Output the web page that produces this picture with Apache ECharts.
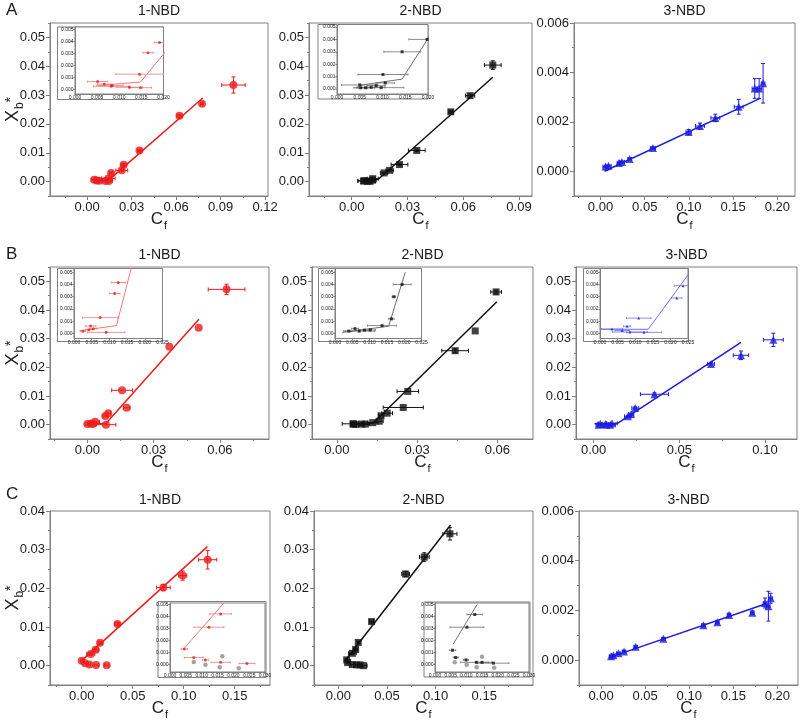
<!DOCTYPE html>
<html><head><meta charset="utf-8">
<script src="https://cdn.jsdelivr.net/npm/echarts@6/dist/echarts.min.js"></script>
<style>html,body{margin:0;padding:0;background:#fff}#c{width:800px;height:720px}</style>
</head><body><div id="c"></div>
<script>
// ================= DATA (x, y, xerr, yerr) =================
const A1_pts = [[0.0049,0.0006,0.0022,0],[0.0065,0.0004,0.0015,0],[0.0083,0.0003,0.0020,0],[0.0124,0.0002,0.0030,0],[0.0146,0.0002,0.0025,0],[0.0144,0.0011,0.0045,0],[0.0162,0.0030,0.0012,0.0003],[0.0234,0.0039,0.0040,0.0003],[0.0247,0.0058,0.0018,0.0004],[0.0353,0.0108,0.0012,0.0004],[0.0623,0.0228,0.0018,0.0005],[0.0775,0.0270,0.0006,0.0003],[0.0987,0.0335,0.0079,0.0028]];
const A1_fit = [[0.0048,0.0003],[0.0148,0.0006],[0.078,0.029]];
const A1_ins_pts = [[0.0051,0.00064,0.0023,0],[0.0066,0.00043,0.0015,0],[0.0084,0.00032,0.0025,0],[0.0082,0.00024,0.0040,0],[0.0123,0.00016,0.0030,0],[0.0148,0.00013,0.0025,0],[0.0146,0.00126,0.0054,0],[0.0165,0.00305,0.0012,0],[0.0191,0.0039,0.0012,0]];

const A2_pts = [[0.0063,0.0002,0.0030,0],[0.0068,0.0003,0.0035,0],[0.0084,0.0001,0.0020,0],[0.0099,0.0001,0.0030,0],[0.0111,0.0005,0.0020,0],[0.0113,0.0010,0.0030,0],[0.0174,0.0030,0.0020,0.0003],[0.0204,0.0039,0.0020,0.0003],[0.0257,0.0059,0.0045,0.0004],[0.0350,0.0108,0.0045,0.0004],[0.0533,0.0242,0.0010,0.0005],[0.0637,0.0298,0.0025,0.0005],[0.0759,0.0404,0.0045,0.0015]];
const A2_fit = [[0.005,0.0003],[0.0143,0.0008],[0.0759,0.0362]];
const A2_ins_pts = [[0.0050,0.00033,0.0040,0],[0.0052,0.00010,0.0015,0],[0.0063,0.00010,0.0020,0],[0.0075,0.00014,0.0030,0],[0.0086,0.00027,0.0020,0],[0.0097,0.00011,0.0050,0],[0.0106,0.00049,0.0020,0],[0.0101,0.00117,0.0055,0],[0.0143,0.00300,0.0040,0],[0.0198,0.00400,0.0040,0]];

const A3_pts = [[0.0057,0.00019,0.003,0.00003],[0.0090,0.00022,0.003,0.00003],[0.0208,0.00034,0.002,0.00003],[0.0242,0.00038,0.003,0.00004],[0.0329,0.00050,0.002,0.00004],[0.0593,0.00094,0.003,0.00005],[0.0997,0.00159,0.003,0.0001],[0.1125,0.00183,0.005,0.00012],[0.1299,0.00216,0.005,0.00015],[0.1563,0.00261,0.005,0.0003],[0.1745,0.00335,0.003,0.0004],[0.1794,0.00335,0.003,0.0004],[0.1839,0.00356,0.002,0.0008]];
const A3_fit = [[0.0045,0.0],[0.1805,0.00295]];

const B1_pts = [[0.0000,0.0002,0.0010,0],[0.0015,0.0003,0.0010,0],[0.0025,0.0002,0.0015,0],[0.0035,0.0010,0.0020,0],[0.0084,0.0000,0.0045,0],[0.0081,0.0030,0.0010,0],[0.0095,0.0040,0.0010,0],[0.0157,0.0120,0.0047,0],[0.0178,0.0059,0.0015,0],[0.0371,0.0272,0,0],[0.0504,0.0338,0,0],[0.0630,0.0472,0.0083,0.0018]];
const B1_fit = [[0.0,0.0002],[0.0084,0.0004],[0.0505,0.0368]];
const B1_ins_pts = [[0.0025,0.00020,0.0008,0],[0.0042,0.00032,0.0010,0],[0.0047,0.00062,0.0015,0],[0.0055,0.00040,0.0010,0],[0.0074,0.00130,0.0050,0],[0.0091,0.00010,0.0053,0],[0.0115,0.00327,0.0015,0],[0.0125,0.00416,0.0020,0]];
const B1_ins_fit = [[0.0018,0.00024],[0.012,0.00065],[0.0165,0.0057]];

const B2_pts = [[0.0060,0.0003,0.0040,0],[0.0062,0.0002,0.0010,0],[0.0071,0.0001,0.0015,0],[0.0093,0.0002,0.0025,0],[0.0106,0.0002,0.0015,0],[0.0134,0.0007,0.0020,0],[0.0158,0.0012,0.0015,0],[0.0165,0.0031,0.0008,0],[0.0188,0.0040,0.0020,0],[0.0248,0.0060,0.0075,0],[0.0265,0.0116,0.0040,0],[0.0442,0.0258,0.0050,0.0007],[0.0517,0.0327,0,0],[0.0595,0.0463,0.0020,0.0007]];
const B2_fit = [[0.005,0.0002],[0.0135,0.0005],[0.0598,0.0429]];
const B2_ins_pts = [[0.0040,0.00020,0.0010,0],[0.0058,0.00040,0.0010,0],[0.0070,0.00020,0.0045,0],[0.0085,0.00028,0.0015,0],[0.0102,0.00030,0.0015,0],[0.0136,0.00065,0.0042,0],[0.0163,0.00120,0.0008,0],[0.0170,0.00300,0.0005,0],[0.0194,0.00400,0.0026,0]];
const B2_ins_fit = [[0.0021,0.0001],[0.0155,0.0006],[0.0203,0.0050]];

const B3_pts = [[0.0029,0.0000,0.0015,0],[0.0039,0.0003,0.0015,0],[0.0068,0.0002,0.0020,0],[0.0074,0.0000,0.0030,0],[0.0097,0.0000,0.0030,0],[0.0107,0.0005,0.0030,0],[0.0200,0.0029,0.0020,0.0003],[0.0219,0.0037,0.0015,0.0003],[0.0243,0.0058,0.0020,0.0004],[0.0355,0.0106,0.0082,0.0005],[0.0685,0.0212,0.0020,0.0005],[0.0860,0.0242,0.0045,0.0015],[0.1049,0.0296,0.0058,0.0023]];
const B3_fit = [[0.0005,0.00035],[0.0137,0.00035],[0.086,0.0287]];
const B3_ins_pts = [[0.0034,0.00037,0.0030,0],[0.0063,0.00025,0.0020,0],[0.0077,0.00060,0.0010,0],[0.0085,0.00013,0.0050,0],[0.0110,0.00126,0.0035,0],[0.0125,0.00010,0.0050,0],[0.0218,0.00290,0.0015,0],[0.0236,0.00390,0.0025,0]];

const C1_pts = [[0.0000,0.0013,0.0010,0],[0.0033,0.0006,0.0015,0],[0.0075,0.0003,0.0010,0],[0.0141,0.0002,0.0020,0],[0.0245,0.0001,0.0020,0],[0.0088,0.0030,0.0040,0.0003],[0.0137,0.0041,0.0030,0.0004],[0.0180,0.0059,0.0020,0.0004],[0.0350,0.0108,0.0025,0.0004],[0.0801,0.0202,0.0067,0.0008],[0.0990,0.0233,0.0040,0.0012],[0.1235,0.0274,0.0089,0.0024]];
const C1_fit = [[0.0,0.0013],[0.1232,0.0308]];
const C1_ins_pts = [[0.0045,0.0013,0.0010,0],[0.0075,0.0006,0.0030,0],[0.0112,0.0004,0.0010,0],[0.0160,0.0002,0.0030,0],[0.0243,0.0001,0.0025,0],[0.0123,0.0031,0.0047,0],[0.0160,0.0042,0.0034,0]];
const C1_ins_gray = [[0.0075,0.00022],[0.0112,0.0],[0.0165,0.0007],[0.0157,-0.0002],[0.0217,-0.0003]];
const C1_ins_fit = [[0.0043,0.0013],[0.017,0.0051]];

const C2_pts = [[0.0086,0.0015,0.0010,0],[0.0096,0.0008,0.0010,0],[0.0144,0.0003,0.0015,0],[0.0188,0.0002,0.0015,0],[0.0223,0.0002,0.0015,0],[0.0260,0.0000,0.0035,0],[0.0144,0.0032,0.0040,0.0003],[0.0178,0.0042,0.0020,0.0003],[0.0205,0.0060,0.0010,0.0003],[0.0342,0.0114,0.0020,0.0004],[0.0692,0.0237,0.0040,0.0007],[0.0884,0.0281,0.0050,0.0011],[0.1147,0.0341,0.0072,0.0016]];
const C2_fit = [[0.0079,0.0016],[0.1154,0.0364]];
const C2_ins_pts = [[0.0056,0.0012,0.0010,0],[0.0066,0.0006,0.0008,0],[0.0099,0.0004,0.0008,0],[0.0132,0.0002,0.0050,0],[0.0150,0.0002,0.0020,0],[0.0186,0.00013,0.0050,0],[0.0102,0.0031,0.0054,0],[0.0127,0.00415,0.0025,0]];
const C2_ins_gray = [[0.0063,0.0002],[0.0101,0.0],[0.0133,-0.0002],[0.0150,0.00067],[0.0189,-0.00024]];
const C2_ins_fit = [[0.0058,0.0017],[0.0135,0.005]];

const C3_pts = [[0.0113,0.00016,0.002,0.00002],[0.0140,0.00020,0.002,0.00002],[0.0197,0.00028,0.002,0.00003],[0.0261,0.00035,0.002,0.00004],[0.0393,0.00054,0.002,0.00004],[0.0707,0.00086,0.002,0.00005],[0.1161,0.00140,0.002,0.00006],[0.1319,0.00152,0.002,0.00006],[0.1452,0.00182,0.002,0.00007],[0.1716,0.00191,0.002,0.00007],[0.1860,0.00230,0.002,0.00020],[0.1898,0.00217,0.002,0.00060],[0.1924,0.00249,0.002,0.00020]];
const C3_fit = [[0.0091,0.0001],[0.1887,0.00229]];

// tick labels
const xt_003_12 = [0,0.03,0.06,0.09,0.12];
const xt_003_09 = [0,0.03,0.06,0.09];
const xt_003_06 = [0,0.03,0.06];
const xt_005_20 = [0,0.05,0.10,0.15,0.20];
const xt_005_15 = [0,0.05,0.10,0.15];
const xt_005_10 = [0,0.05,0.10];
const yt_001_05 = [0,0.01,0.02,0.03,0.04,0.05];
const yt_001_04 = [0,0.01,0.02,0.03,0.04];
const yt_0002_6 = [0,0.002,0.004,0.006];
const ins_yt = [0,0.001,0.002,0.003,0.004,0.005];
const ins_xt20 = [0,0.005,0.010,0.015,0.020];
const ins_xt25 = [0,0.005,0.010,0.015,0.020,0.025];
const ins_xt30 = [0,0.005,0.010,0.015,0.020,0.025,0.030];

const panelTitles = ['1-NBD','2-NBD','3-NBD'];
const rowLetters = ['A','B','C'];

// ================= STYLE / LAYOUT =================
const FONT = 'Liberation Sans, Arial, Helvetica, sans-serif';
const TXT = '#1a1a1a', FRAME = '#808080';
const RED = '#ee1b1b', BLACK = '#111111', BLUE = '#1c1ce0';
const RED_L = '#f07a7a', BLACK_L = '#6e6e6e', BLUE_L = '#7070ee';

const mains = [
  {rect:[50,23,218,173],  xr:[-0.025,0.122],  yr:[-0.005,0.055], xt:xt_003_12, yt:yt_001_05, xd:2, yd:2, pts:A1_pts, fit:A1_fit, c:RED,   sym:'circle',   yname:true},
  {rect:[309,23,223,173], xr:[-0.023,0.097],  yr:[-0.005,0.055], xt:xt_003_09, yt:yt_001_05, xd:2, yd:2, pts:A2_pts, fit:A2_fit, c:BLACK, sym:'rect'},
  {rect:[574,23,221,173], xr:[-0.03,0.22],    yr:[-0.001,0.006], xt:xt_005_20, yt:yt_0002_6, xd:2, yd:3, pts:A3_pts, fit:A3_fit, c:BLUE,  sym:'triangle'},
  {rect:[50,267,219,172], xr:[-0.0169,0.0822],yr:[-0.005,0.055], xt:xt_003_06, yt:yt_001_05, xd:2, yd:2, pts:B1_pts, fit:B1_fit, c:RED,   sym:'circle',   yname:true},
  {rect:[312,267,221,172],xr:[-0.0093,0.0733],yr:[-0.005,0.055], xt:xt_003_06, yt:yt_001_05, xd:2, yd:2, pts:B2_pts, fit:B2_fit, c:BLACK, sym:'rect'},
  {rect:[576,267,221,172],xr:[-0.0103,0.1187],yr:[-0.005,0.055], xt:xt_005_10, yt:yt_001_05, xd:2, yd:2, pts:B3_pts, fit:B3_fit, c:BLUE,  sym:'triangle'},
  {rect:[50,511,220,174], xr:[-0.0311,0.1846],yr:[-0.005,0.04],  xt:xt_005_15, yt:yt_001_04, xd:2, yd:2, pts:C1_pts, fit:C1_fit, c:RED,   sym:'circle',   yname:true},
  {rect:[314,511,219,174],xr:[-0.025,0.2001], yr:[-0.005,0.04],  xt:xt_005_15, yt:yt_001_04, xd:2, yd:2, pts:C2_pts, fit:C2_fit, c:BLACK, sym:'rect'},
  {rect:[579,511,219,174],xr:[-0.025,0.2234], yr:[-0.001,0.006], xt:xt_005_20, yt:yt_0002_6, xd:2, yd:3, pts:C3_pts, fit:C3_fit, c:BLUE,  sym:'triangle'}
];
const insets = [
  {rect:[75,27,88.5,67],    box:[57.5,27,106,72.5],  xr:[0,0.020], yr:[-0.0004,0.0052], xt:ins_xt20, pts:A1_ins_pts, fit:A1_fit,     c:RED,   cl:RED_L,   sym:'circle'},
  {rect:[337,24.5,91,69.5], box:[318,24.5,110,74.5], xr:[0,0.020], yr:[-0.0004,0.0052], xt:ins_xt20, pts:A2_ins_pts, fit:A2_fit,     c:BLACK, cl:BLACK_L, sym:'rect'},
  {rect:[74,268.5,88.5,70], box:[57.5,268.5,105,73], xr:[0,0.025], yr:[-0.0004,0.0053], xt:ins_xt25, pts:B1_ins_pts, fit:B1_ins_fit, c:RED,   cl:RED_L,   sym:'circle'},
  {rect:[335,268.5,86.5,70],box:[318.5,268.5,103,73],xr:[0,0.025], yr:[-0.0004,0.0053], xt:ins_xt25, pts:B2_ins_pts, fit:B2_ins_fit, c:BLACK, cl:BLACK_L, sym:'rect'},
  {rect:[600,268.5,88,70],  box:[583.5,268.5,105,73],xr:[0,0.025], yr:[-0.0004,0.0053], xt:ins_xt25, pts:B3_ins_pts, fit:B3_fit,     c:BLUE,  cl:BLUE_L,  sym:'triangle'},
  {rect:[170,603,95,69],    box:[158,601.5,108,76],  xr:[0,0.030], yr:[-0.0006,0.0051], xt:ins_xt30, pts:C1_ins_pts, fit:C1_ins_fit, c:RED,   cl:RED_L,   sym:'circle', gray:C1_ins_gray},
  {rect:[435,603,94,69],    box:[424,602,106,75],    xr:[0,0.030], yr:[-0.0006,0.0051], xt:ins_xt30, pts:C2_ins_pts, fit:C2_ins_fit, c:BLACK, cl:BLACK_L, sym:'rect',   gray:C2_ins_gray}
];

const opt = {animation:false, backgroundColor:'#fff', grid:[], xAxis:[], yAxis:[], series:[], graphic:[]};
const fmt = d => v => v.toFixed(d);
function minors(t, r){
  const s = t[1]-t[0], out=[];
  for (let v = t[0]-s/2; v <= r[1]+1e-12; v += s) if (v >= r[0]-1e-12) out.push(+v.toFixed(6));
  return out;
}
function errRender(color, cap, lw){
  return function(params, api){
    const x=api.value(0), y=api.value(1), xe=api.value(2), ye=api.value(3);
    const st={stroke:color, lineWidth:lw}; const ch=[];
    if (xe>0){
      const a=api.coord([x-xe,y]), b=api.coord([x+xe,y]);
      ch.push({type:'line',shape:{x1:a[0],y1:a[1],x2:b[0],y2:b[1]},style:st});
      ch.push({type:'line',shape:{x1:a[0],y1:a[1]-cap,x2:a[0],y2:a[1]+cap},style:st});
      ch.push({type:'line',shape:{x1:b[0],y1:b[1]-cap,x2:b[0],y2:b[1]+cap},style:st});
    }
    if (ye>0){
      const a=api.coord([x,y-ye]), b=api.coord([x,y+ye]);
      ch.push({type:'line',shape:{x1:a[0],y1:a[1],x2:b[0],y2:b[1]},style:st});
      ch.push({type:'line',shape:{x1:a[0]-cap,y1:a[1],x2:a[0]+cap,y2:a[1]},style:st});
      ch.push({type:'line',shape:{x1:b[0]-cap,y1:b[1],x2:b[0]+cap,y2:b[1]},style:st});
    }
    return {type:'group', children:ch};
  };
}
const cfRich = {c:{fontSize:17,fontFamily:FONT,color:TXT,lineHeight:18,verticalAlign:'top'},
                s:{fontSize:11,fontFamily:FONT,color:TXT,lineHeight:11,padding:[9,0,0,1],verticalAlign:'top'}};
const xbRich = {x:{fontSize:18,fontFamily:FONT,color:TXT,lineHeight:19,verticalAlign:'top'},
                b:{fontSize:12,fontFamily:FONT,color:TXT,lineHeight:12,padding:[10,0,0,1],verticalAlign:'top'},
                s:{fontSize:14,fontFamily:FONT,color:TXT,lineHeight:14,padding:[0,0,0,0],verticalAlign:'top'}};

function addAxes(rect, xr, yr, xt, yt, xd, yd, kind, extra){
  const main = kind==='main';
  const gi = opt.grid.length;
  opt.grid.push({left:rect[0], top:rect[1], width:rect[2], height:rect[3], show:true, borderColor:FRAME, borderWidth:1,
    backgroundColor: main?'transparent':'#fff', containLabel:false, outerBoundsMode:'none', z: main?0:5});
  const lblSize = main?13:5;
  const common = (r)=>({type:'value', min:r[0], max:r[1], splitLine:{show:false}, z: main?1:6, nameMoveOverlap:false});
  const xi = opt.xAxis.length;
  const xa = Object.assign(common(xr), {gridIndex:gi, position:'bottom',
    axisLine:{show:true,onZero:false,lineStyle:{color:FRAME,width:1}},
    axisTick:{show:true,inside:false,length:main?4:1.5,customValues:xt,lineStyle:{color:FRAME}},
    axisLabel:{show:true,customValues:xt,formatter:fmt(xd),fontSize:lblSize,color:TXT,fontFamily:FONT,margin:main?5:1.5}});
  if (main){ xa.name='{c|C}{s|f}'; xa.nameLocation='middle'; xa.nameGap=15; xa.nameTextStyle={rich:cfRich}; }
  opt.xAxis.push(xa);
  const yi = opt.yAxis.length;
  const ya = Object.assign(common(yr), {gridIndex:gi, position:'left',
    axisLine:{show:true,onZero:false,lineStyle:{color:FRAME,width:1}},
    axisTick:{show:true,inside:false,length:main?4:1.5,customValues:yt,lineStyle:{color:FRAME}},
    axisLabel:{show:true,customValues:yt,formatter:fmt(yd),fontSize:lblSize,color:TXT,fontFamily:FONT,margin:main?5:1.5}});
  if (main && extra && extra.yname){ ya.name='{x|X}{b|b}{s|*}'; ya.nameLocation='middle'; ya.nameRotate=90; ya.nameGap=27; ya.nameTextStyle={rich:xbRich}; }
  opt.yAxis.push(ya);
  if (main){
    opt.xAxis.push(Object.assign(common(xr), {gridIndex:gi, position:'bottom', axisLine:{show:false,onZero:false},
      axisTick:{show:true,inside:false,length:2,customValues:minors(xt,xr),lineStyle:{color:FRAME}}, axisLabel:{show:false}}));
    opt.yAxis.push(Object.assign(common(yr), {gridIndex:gi, position:'left', axisLine:{show:false,onZero:false},
      axisTick:{show:true,inside:false,length:2,customValues:minors(yt,yr),lineStyle:{color:FRAME}}, axisLabel:{show:false}}));
  }
  return {xi, yi};
}

mains.forEach(p=>{
  const {xi,yi} = addAxes(p.rect,p.xr,p.yr,p.xt,p.yt,p.xd,p.yd,'main',{yname:p.yname});
  opt.series.push({type:'line', xAxisIndex:xi, yAxisIndex:yi, data:p.fit, symbol:'none', lineStyle:{color:p.c,width:1.5}, z:2, silent:true});
  opt.series.push({type:'custom', xAxisIndex:xi, yAxisIndex:yi, data:p.pts, renderItem:errRender(p.c,2,1), z:3, clip:true, silent:true});
  opt.series.push({type:'scatter', xAxisIndex:xi, yAxisIndex:yi, data:p.pts.map(d=>[d[0],d[1]]), symbol:p.sym,
    symbolSize: p.sym==='rect'?7:8, itemStyle:{color:p.c}, z:4, silent:true});
});
insets.forEach(p=>{
  opt.graphic.push({type:'rect', shape:{x:p.box[0],y:p.box[1],width:p.box[2],height:p.box[3]},
    style:{fill:'#fff',stroke:FRAME,lineWidth:1}, z:4, silent:true});
  const {xi,yi} = addAxes(p.rect,p.xr,p.yr,p.xt,ins_yt,3,3,'inset');
  opt.series.push({type:'line', xAxisIndex:xi, yAxisIndex:yi, data:p.fit, symbol:'none', lineStyle:{color:p.cl,width:1}, z:7, clip:true, silent:true});
  opt.series.push({type:'custom', xAxisIndex:xi, yAxisIndex:yi, data:p.pts, renderItem:errRender(p.cl,1,0.8), z:8, clip:true, silent:true});
  opt.series.push({type:'scatter', xAxisIndex:xi, yAxisIndex:yi, data:p.pts.map(d=>[d[0],d[1]]), symbol:p.sym,
    symbolSize:3, itemStyle:{color:p.c}, z:9, clip:true, silent:true});
  if (p.gray) opt.series.push({type:'scatter', xAxisIndex:xi, yAxisIndex:yi, data:p.gray, symbol:'circle',
    symbolSize:4.5, itemStyle:{color:'#8c8c8c'}, z:9, clip:true, silent:true});
});

// titles and row letters
const titleY = [11, 255, 500];
const letterY = [10, 254, 494];
mains.forEach((p,i)=>{
  const r=Math.floor(i/3), c=i%3;
  opt.graphic.push({type:'text', x:p.rect[0]+p.rect[2]/2, y:titleY[r], silent:true,
    style:{text:panelTitles[c], font:'14px '+FONT, fill:TXT, textAlign:'center', textVerticalAlign:'middle'}});
});
rowLetters.forEach((L,r)=>{
  opt.graphic.push({type:'text', x:6, y:letterY[r], silent:true,
    style:{text:L, font:'17px '+FONT, fill:TXT, textAlign:'left', textVerticalAlign:'middle'}});
});

const chart = echarts.init(document.getElementById('c'), null, {renderer:'canvas'});
chart.setOption(opt);
</script>
</body></html>
